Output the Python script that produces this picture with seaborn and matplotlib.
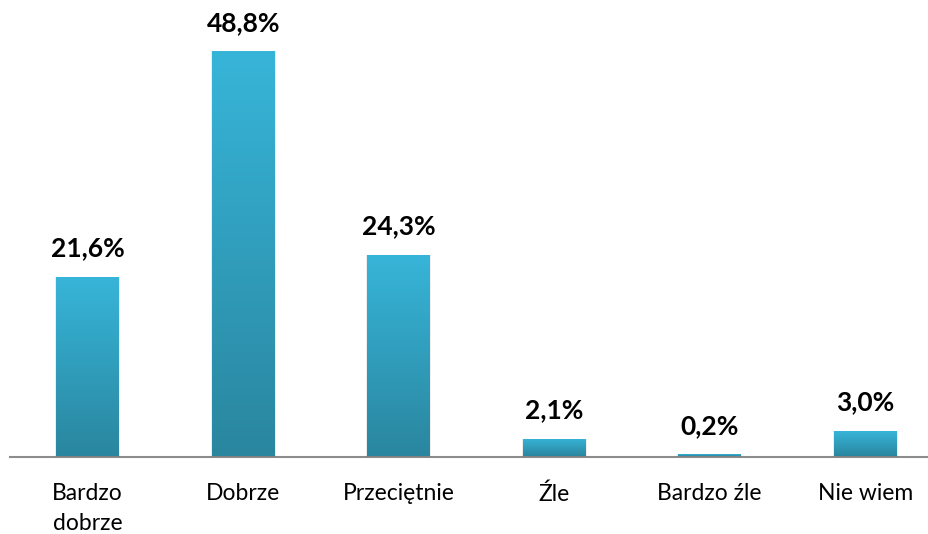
import matplotlib.pyplot as plt
import numpy as np
import seaborn as sns
from matplotlib.colors import LinearSegmentedColormap

# Chart data
categories = ["Bardzo\ndobrze", "Dobrze", "Przeciętnie", "Źle", "Bardzo źle", "Nie wiem"]
values = [21.6, 48.8, 24.3, 2.1, 0.2, 3.0]
labels = ["21,6%", "48,8%", "24,3%", "2,1%", "0,2%", "3,0%"]

sns.set_style("white")
plt.rcParams['font.family'] = ['Lato', 'DejaVu Sans']

fig = plt.figure(figsize=(9.29, 5.34), dpi=100)
ax = fig.add_axes([10 / 929, 77 / 534, 919 / 929, 457 / 534])

sns.barplot(x=categories, y=values, ax=ax, color='#33afd4', width=0.405,
            saturation=1, edgecolor='none')

# Vertical gradient on each bar
cmap = LinearSegmentedColormap.from_list('bar', ['#2a869f', '#37b5d9'])
grad = np.linspace(0, 1, 256).reshape(-1, 1)
for bar in ax.patches:
    x0, y0 = bar.get_x(), bar.get_y()
    w, h = bar.get_width(), bar.get_height()
    # soft shadow
    ax.add_patch(plt.Rectangle((x0 - 0.008, y0 - 0.15), w + 0.016, h + 0.15,
                               color='#000000', alpha=0.07, zorder=1.5, lw=0))
    img = ax.imshow(grad, extent=(x0, x0 + w, y0, y0 + h), origin='lower',
                    cmap=cmap, aspect='auto', zorder=2)
    img.set_clip_path(bar)
    bar.set_zorder(2)

for i, (v, lab) in enumerate(zip(values, labels)):
    ax.annotate(lab, (i, v), xytext=(0, 12), textcoords='offset points',
                ha='center', va='bottom', fontsize=19, fontweight='bold', color='black')

ax.set_xlim(-0.5, 5.41)
ax.set_ylim(-0.12, 55)
ax.set_yticks([])
for s in ['top', 'right', 'left']:
    ax.spines[s].set_visible(False)
ax.spines['bottom'].set_color('#8c8c8c')
ax.spines['bottom'].set_linewidth(1.5)
ax.spines['bottom'].set_zorder(1)
ax.tick_params(axis='x', length=0, pad=19, labelsize=16.5, labelcolor='black')
for t in ax.get_xticklabels():
    t.set_linespacing(1.5)
    t.set_verticalalignment('top')

fig.savefig('out.png', dpi=100)
